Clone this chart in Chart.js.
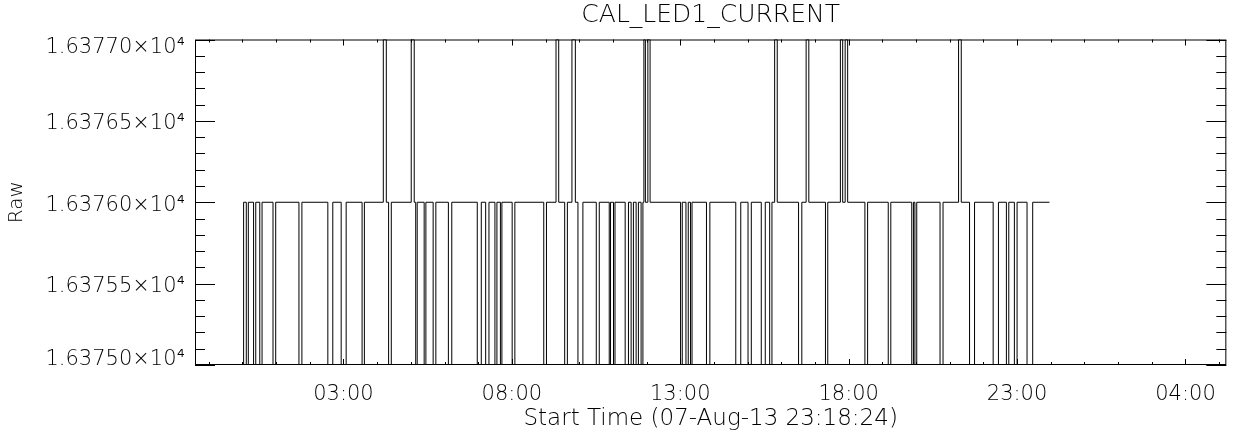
<!DOCTYPE html>
<html>
<head>
<meta charset="utf-8">
<title>CAL_LED1_CURRENT</title>
<script src="https://cdn.jsdelivr.net/npm/chart.js@4.4.1/dist/chart.umd.min.js"></script>
<style>
  html, body { margin: 0; padding: 0; background: #fff; }
</style>
</head>
<body>
<canvas id="myChart" width="1233" height="439"></canvas>
<script>
// time is in hours counted from 00:00 on 07-Aug-13 (27 = 03:00 next day)
const xMin = 22.592;
const xMax = 53.213;
const yMin = 16375;
const yMax = 16377;

const baseLevel = 16376;
const dropLevel = 16375;
const spikeLevel = 16377;
const endTime = 47.962;

// short drop-outs to the low value
const dropStart = [24.020, 24.115, 24.331, 24.515, 24.908, 25.678, 26.536, 26.932, 27.553, 28.340,
  29.145, 29.396, 29.663, 30.115, 30.973, 31.222, 31.497, 31.660, 32.009, 32.947,
  33.568, 33.962, 34.506, 34.891, 35.018, 35.364, 35.541, 35.689, 35.837, 37.009,
  37.169, 37.305, 37.778, 38.648, 39.012, 39.405, 39.654, 40.512, 41.311, 42.482,
  43.175, 43.873, 43.967, 44.713, 45.589, 46.290, 46.683, 46.920, 47.296];
const dropEnd = [24.035, 24.175, 24.396, 24.583, 24.988, 25.766, 26.683, 27.080, 27.621, 28.420,
  29.189, 29.447, 29.743, 30.216, 31.092, 31.320, 31.556, 31.704, 32.089, 33.027,
  33.648, 34.109, 34.595, 34.929, 35.062, 35.462, 35.609, 35.757, 35.891, 37.059,
  37.237, 37.349, 37.879, 38.796, 39.109, 39.524, 39.722, 40.609, 41.379, 42.562,
  43.251, 43.923, 44.021, 44.802, 45.737, 46.447, 46.754, 47.000, 47.464];

// short jumps to the high value
const spikeStart = [28.183, 29.012, 33.311, 33.784, 35.920, 36.038, 39.802, 40.737, 41.754, 41.896, 45.263];
const spikeEnd = [28.272, 29.101, 33.391, 33.885, 35.964, 36.104, 39.879, 40.817, 41.822, 41.970, 45.343];

const xTickHours = [27, 32, 37, 42, 47, 52];
const xTickLabels = ['03:00', '08:00', '13:00', '18:00', '23:00', '04:00'];
const yTickValues = [16375, 16375.5, 16376, 16376.5, 16377];
const yTickLabels = ['1.63750×10⁴', '1.63755×10⁴', '1.63760×10⁴', '1.63765×10⁴', '1.63770×10⁴'];

const fontFamily = "'DejaVu Sans', sans-serif";
// IDL pulls the end labels in towards the middle, px downwards
const yLabelShift = [-5, 3, 3, 3, 8];
const plotHeight = 325.5;

// build the step trace
let points = [];
dropStart.forEach((t, i) => {
  points.push({ x: t, y: dropLevel });
  points.push({ x: dropEnd[i], y: baseLevel });
});
spikeStart.forEach((t, i) => {
  points.push({ x: t, y: spikeLevel });
  points.push({ x: spikeEnd[i], y: baseLevel });
});
points.push({ x: endTime, y: baseLevel });
points.sort((a, b) => a.x - b.x);

// box round the plot + inward IDL style ticks
const frame = {
  id: 'frame',
  afterDatasetsDraw(chart) {
    const { ctx, chartArea: a, scales: { x, y } } = chart;
    ctx.save();
    ctx.strokeStyle = '#000';
    ctx.lineWidth = 1;
    ctx.strokeRect(a.left + 0.5, a.top + 0.5, a.right - a.left - 1, a.bottom - a.top - 1);
    ctx.beginPath();
    for (let h = Math.ceil(xMin); h <= xMax; h++) {
      const px = Math.round(x.getPixelForValue(h)) + 0.5;
      const len = xTickHours.includes(h) ? 6 : 3;
      ctx.moveTo(px, a.bottom); ctx.lineTo(px, a.bottom - len);
      ctx.moveTo(px, a.top); ctx.lineTo(px, a.top + len);
    }
    for (let i = 0; i <= 20; i++) {
      const v = yMin + i * 0.1;
      const py = Math.round(y.getPixelForValue(v)) + 0.5;
      const len = i % 5 === 0 ? 20 : 10;
      ctx.moveTo(a.left, py); ctx.lineTo(a.left + len, py);
      ctx.moveTo(a.right, py); ctx.lineTo(a.right - len, py);
    }
    ctx.stroke();
    ctx.restore();
  }
};

new Chart(document.getElementById('myChart'), {
  type: 'line',
  data: {
    datasets: [{
      data: points,
      borderColor: '#000',
      borderWidth: 1,
      pointRadius: 0,
      stepped: true,
      fill: false
    }]
  },
  options: {
    animation: false,
    responsive: false,
    parsing: false,
    layout: { padding: { left: 0, right: 3, top: 0, bottom: 0 } },
    plugins: {
      legend: { display: false },
      tooltip: { enabled: false },
      title: {
        display: true,
        fullSize: false,
        text: 'CAL_LED1_CURRENT',
        color: '#000',
        font: { family: fontFamily, size: 25, weight: '200', lineHeight: 1.2 },
        padding: { top: 0, bottom: 9.5 }
      }
    },
    scales: {
      x: {
        type: 'linear',
        min: xMin,
        max: xMax,
        grid: { display: false, drawTicks: false },
        border: { display: false },
        afterBuildTicks: s => { s.ticks = xTickHours.map(v => ({ value: v })); },
        afterFit: s => { s.height = 74; },
        ticks: {
          autoSkip: false,
          maxRotation: 0,
          padding: 17,
          color: '#000',
          font: { family: fontFamily, size: 21, weight: '200' },
          callback: v => xTickLabels[xTickHours.indexOf(v)]
        },
        title: {
          display: true,
          text: 'Start Time (07-Aug-13 23:18:24)',
          color: '#000',
          font: { family: fontFamily, size: 23, weight: '200', lineHeight: 1.2 },
          padding: { top: 0, bottom: 6 }
        }
      },
      y: {
        min: yMin,
        max: yMax,
        grid: { display: false, drawTicks: false },
        border: { display: false },
        afterBuildTicks: s => {
          const perPx = (yMax - yMin) / plotHeight;
          s.ticks = yTickValues.map((v, i) => ({ value: v - yLabelShift[i] * perPx }));
        },
        afterFit: s => { s.width = 195; },
        ticks: {
          autoSkip: false,
          padding: 10,
          color: '#000',
          font: { family: fontFamily, size: 21, weight: '200' },
          callback: (v, i) => yTickLabels[i]
        },
        title: {
          display: true,
          text: 'Raw',
          color: '#000',
          font: { family: fontFamily, size: 20, weight: '200', lineHeight: 1.2 },
          padding: { top: 5, bottom: 0 }
        }
      }
    }
  },
  plugins: [frame]
});
</script>
</body>
</html>
